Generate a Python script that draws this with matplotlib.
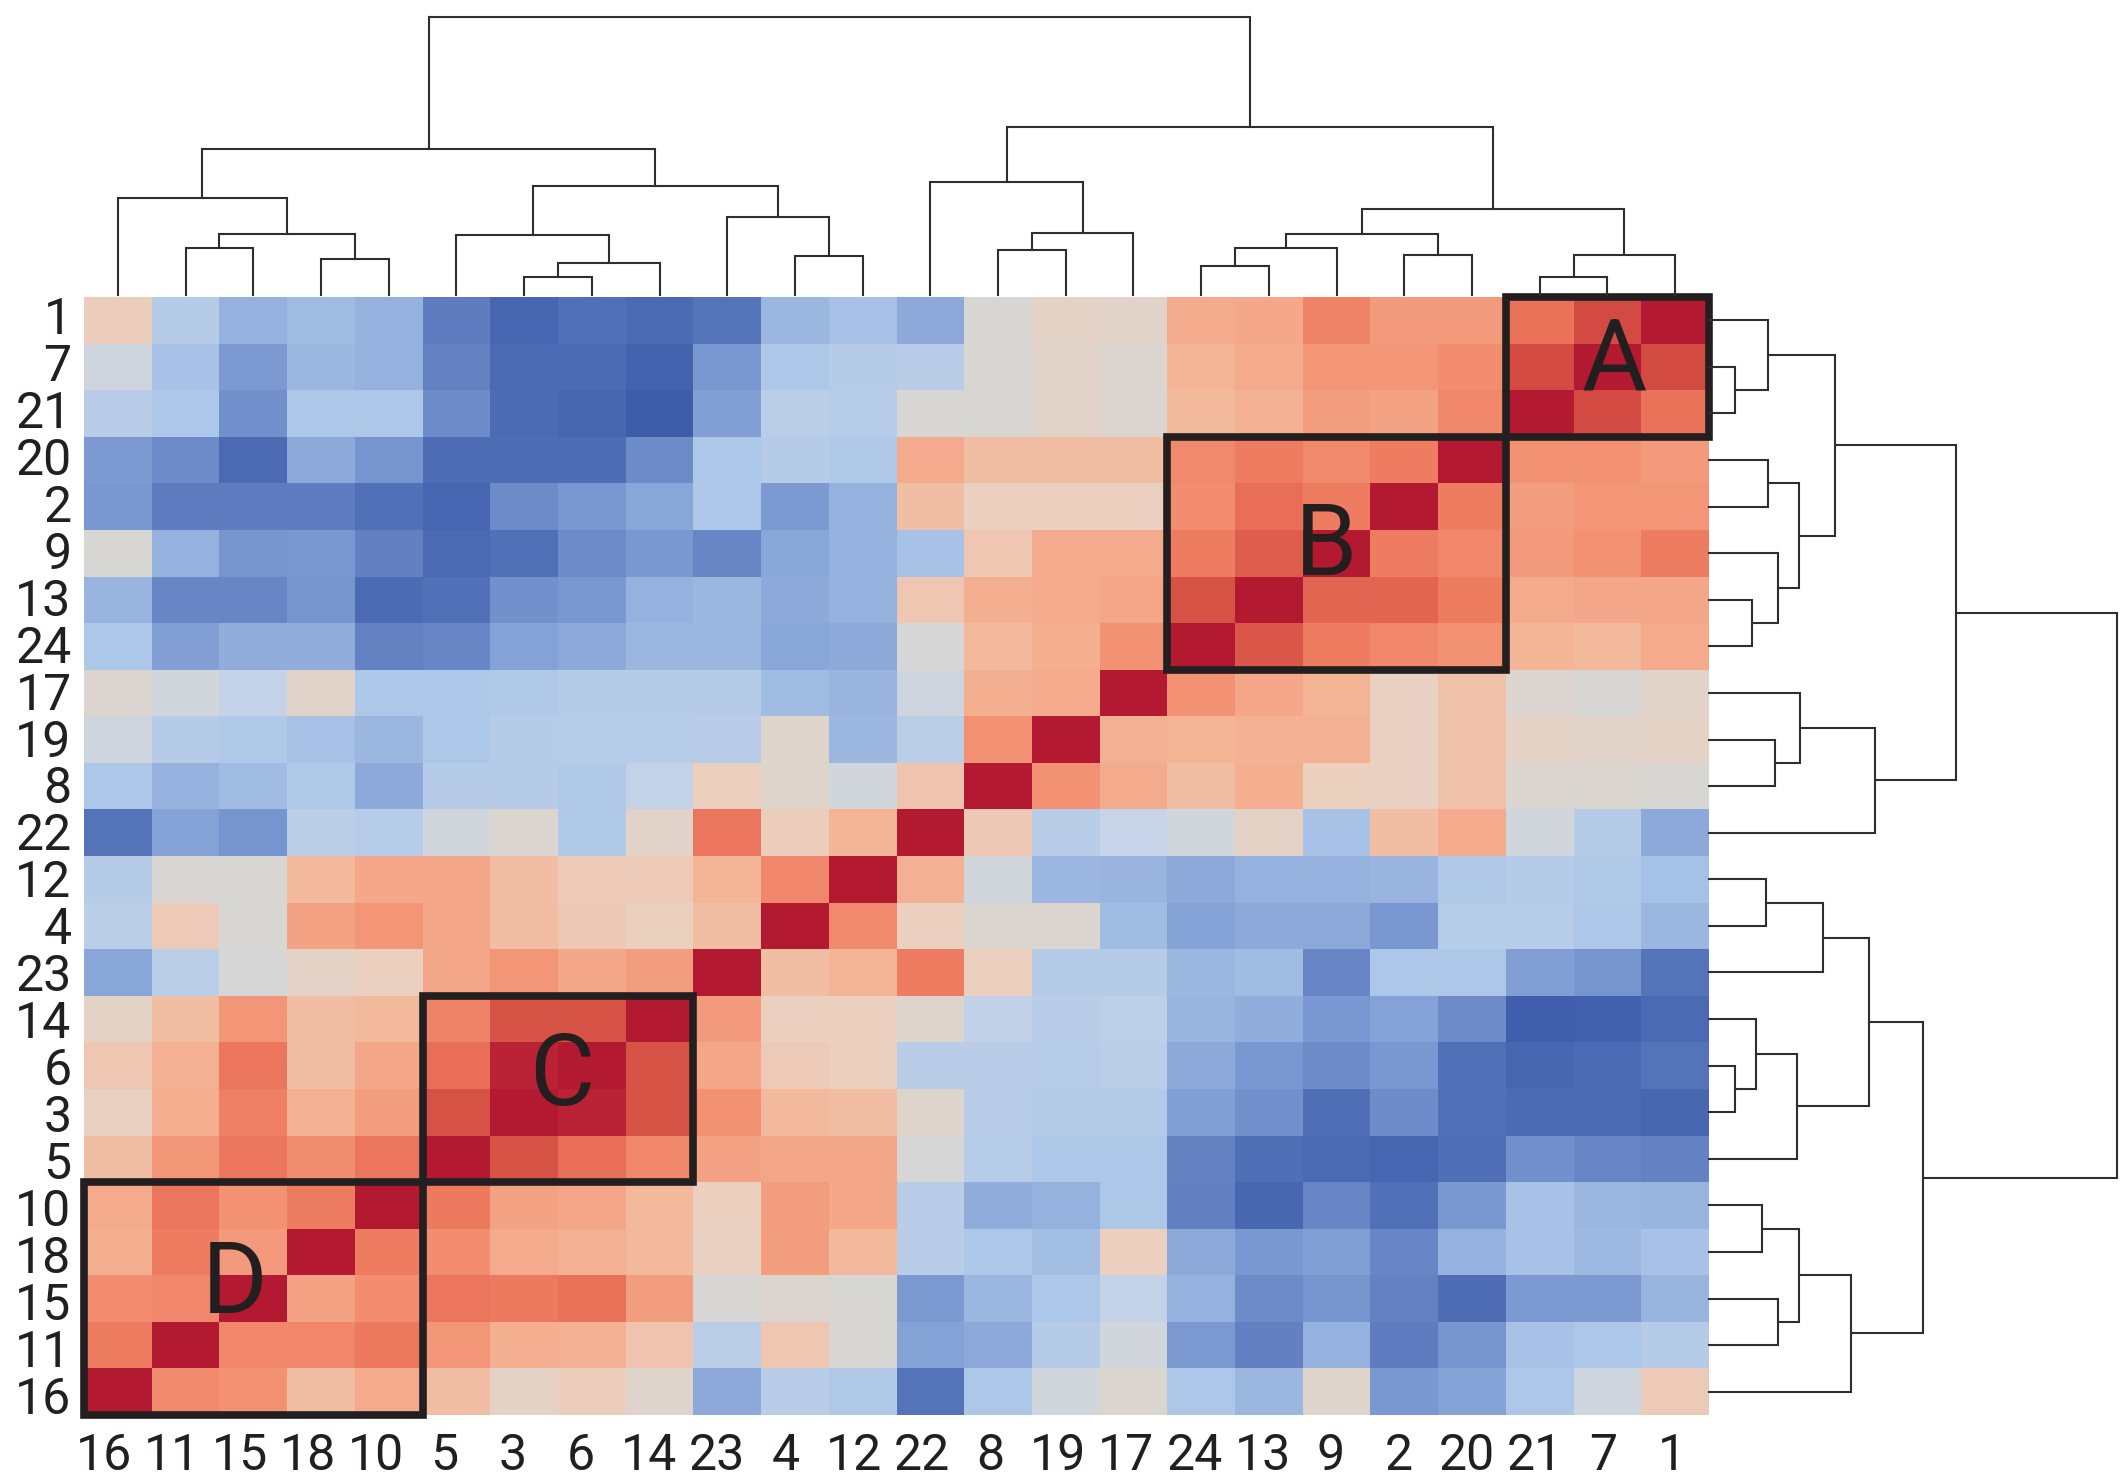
import matplotlib
matplotlib.use("Agg")
import matplotlib.pyplot as plt
from matplotlib.colors import LinearSegmentedColormap
from matplotlib.patches import Rectangle
import numpy as np

col_labels = [16, 11, 15, 18, 10, 5, 3, 6, 14, 23, 4, 12, 22, 8, 19, 17, 24, 13, 9, 2, 20, 21, 7, 1]
row_labels = [1, 7, 21, 20, 2, 9, 13, 24, 17, 19, 8, 22, 12, 4, 23, 14, 6, 3, 5, 10, 18, 15, 11, 16]

# rows top to bottom, columns left to right
corr = [
    [.12, -.15, -.3, -.25, -.3, -.55, -.72, -.62, -.68, -.6, -.27, -.22, -.33, 0, .07, .05, .3, .32, .52, .4, .4, .6, .75, 1],
    [-.03, -.22, -.4, -.27, -.3, -.52, -.68, -.67, -.75, -.42, -.2, -.15, -.13, 0, .05, .01, .25, .3, .42, .42, .47, .75, 1, .75],
    [-.13, -.2, -.45, -.2, -.2, -.47, -.67, -.7, -.8, -.38, -.12, -.14, 0, 0, .05, .02, .22, .27, .38, .35, .5, 1, .75, .6],
    [-.4, -.47, -.68, -.33, -.43, -.65, -.65, -.65, -.48, -.2, -.15, -.18, .3, .2, .2, .2, .48, .55, .48, .55, 1, .45, .45, .4],
    [-.42, -.55, -.55, -.55, -.62, -.72, -.48, -.42, -.35, -.2, -.4, -.3, .2, .1, .1, .1, .47, .62, .55, 1, .55, .38, .42, .42],
    [0, -.3, -.43, -.42, -.53, -.68, -.62, -.48, -.42, -.5, -.35, -.3, -.22, .15, .3, .3, .55, .68, 1, .55, .5, .4, .45, .55],
    [-.28, -.5, -.5, -.43, -.67, -.62, -.45, -.42, -.3, -.27, -.33, -.3, .15, .28, .3, .33, .72, 1, .65, .65, .55, .3, .33, .33],
    [-.2, -.38, -.32, -.32, -.52, -.5, -.37, -.33, -.27, -.27, -.35, -.33, -.01, .22, .28, .45, 1, .7, .55, .5, .45, .25, .22, .3],
    [.02, -.02, -.07, .05, -.2, -.2, -.17, -.15, -.15, -.15, -.25, -.28, -.03, .28, .3, 1, .45, .32, .25, .08, .18, .02, 0, .05],
    [-.03, -.15, -.17, -.22, -.27, -.2, -.15, -.14, -.14, -.13, .03, -.27, -.12, .45, 1, .27, .25, .26, .27, .08, .18, .06, .05, .07],
    [-.2, -.3, -.25, -.18, -.33, -.15, -.15, -.17, -.07, .1, .03, -.02, .17, 1, .45, .3, .2, .28, .1, .08, .18, .01, .01, 0],
    [-.6, -.37, -.43, -.12, -.14, -.02, .02, -.17, .05, .58, .12, .25, 1, .14, -.13, -.06, -.02, .07, -.22, .2, .3, -.02, -.15, -.33],
    [-.15, 0, 0, .22, .32, .32, .2, .13, .13, .25, .5, 1, .27, -.02, -.27, -.28, -.33, -.3, -.3, -.28, -.18, -.15, -.17, -.23],
    [-.12, .13, 0, .35, .42, .33, .2, .14, .1, .2, 1, .48, .1, .01, .02, -.25, -.37, -.33, -.33, -.42, -.14, -.14, -.2, -.27],
    [-.35, -.12, -.01, .06, .1, .33, .43, .32, .38, 1, .2, .25, .55, .1, -.15, -.15, -.27, -.25, -.5, -.2, -.2, -.38, -.43, -.6],
    [.06, .2, .42, .2, .22, .52, .72, .72, 1, .4, .1, .1, .03, -.08, -.13, -.1, -.28, -.32, -.42, -.37, -.48, -.78, -.76, -.68],
    [.15, .27, .58, .2, .32, .62, .95, 1, .72, .33, .13, .1, -.13, -.13, -.14, -.12, -.33, -.42, -.47, -.42, -.62, -.7, -.68, -.6],
    [.08, .28, .53, .27, .38, .72, 1, .95, .72, .45, .22, .2, .03, -.13, -.16, -.16, -.38, -.45, -.63, -.47, -.62, -.67, -.67, -.7],
    [.2, .43, .58, .47, .58, 1, .72, .62, .5, .35, .33, .33, -.01, -.14, -.2, -.2, -.52, -.63, -.68, -.72, -.63, -.45, -.5, -.52],
    [.3, .58, .45, .55, 1, .57, .35, .33, .22, .1, .38, .32, -.13, -.32, -.3, -.2, -.53, -.7, -.5, -.62, -.42, -.22, -.27, -.28],
    [.28, .55, .4, 1, .55, .47, .3, .27, .22, .08, .38, .22, -.13, -.2, -.24, .1, -.33, -.42, -.38, -.5, -.3, -.22, -.26, -.22],
    [.47, .5, 1, .35, .47, .58, .57, .6, .38, 0, .02, 0, -.4, -.27, -.2, -.07, -.3, -.48, -.43, -.52, -.65, -.4, -.4, -.28],
    [.55, 1, .5, .5, .57, .43, .28, .27, .17, -.12, .15, 0, -.37, -.33, -.15, -.02, -.4, -.53, -.3, -.55, -.43, -.22, -.2, -.15],
    [1, .48, .45, .2, .3, .2, .07, .12, .03, -.33, -.13, -.17, -.6, -.2, -.02, .01, -.2, -.27, .03, -.42, -.37, -.2, -.03, .13],
]

# dendrogram: leaves are columns 0-23, new nodes count up from 24
link_a = [6, 21, 16, 24, 3, 1, 26, 13, 19, 10, 25, 29, 30, 27, 31, 33, 35, 36, 37, 12, 40, 43, 44]
link_b = [7, 22, 17, 8, 4, 2, 18, 14, 20, 11, 23, 28, 32, 5, 15, 9, 0, 34, 39, 38, 42, 41, 45]
link_h = [18, 18, 29, 32, 36, 47, 47, 45, 40, 39, 40, 61, 61, 60, 62, 78, 97, 86, 109, 113, 146, 168, 278]

# boxes and the letters inside them
box_col = [21, 16, 5, 0]
box_row = [0, 3, 15, 19]
box_w = [3, 5, 4, 5]
box_h = [3, 5, 4, 5]
box_names = ["A", "B", "C", "D"]
name_x = [22.6, 18.34, 7.06, 2.22]
name_y = [1.43, 5.37, 16.76, 21.22]

colors = [(-.8, (62, 92, 170)), (-.6, (85, 115, 185)), (-.4, (125, 155, 210)), (-.2, (172, 199, 232)),
          (-.05, (200, 212, 232)), (0, (217, 214, 210)), (.1, (235, 208, 192)), (.25, (244, 180, 150)),
          (.45, (243, 145, 115)), (.6, (235, 115, 90)), (.75, (210, 75, 65)), (1, (180, 25, 50))]
vmin, vmax = -.8, 1
cmap = LinearSegmentedColormap.from_list(
    "muted", [((v - vmin) / (vmax - vmin), tuple(c / 255 for c in rgb)) for v, rgb in colors])

W, H = 2124, 1476
LEFT, RIGHT, TOP, BOTTOM = 84, 1709, 297, 1415
font = ["Roboto", "Open Sans", "DejaVu Sans"]
dark = "#231f20"


def px_axes(fig, x0, y0, x1, y1):
    # pixel box with y measured from the top of the picture
    return fig.add_axes([x0 / W, 1 - y1 / H, (x1 - x0) / W, (y1 - y0) / H])


def tree_lines():
    pos = {i: i + .5 for i in range(24)}
    hgt = {i: 0 for i in range(24)}
    lines = []
    for k, (a, b, h) in enumerate(zip(link_a, link_b, link_h)):
        lines.append(([pos[a], pos[a], pos[b], pos[b]], [hgt[a], h, h, hgt[b]]))
        pos[24 + k] = (pos[a] + pos[b]) / 2
        hgt[24 + k] = h
    return lines


fig = plt.figure(figsize=(W / 100, H / 100), dpi=100)

ax = px_axes(fig, LEFT, TOP, RIGHT, BOTTOM)
ax.pcolormesh(np.arange(25), np.arange(25), np.array(corr), cmap=cmap, vmin=vmin, vmax=vmax)
ax.set_xlim(0, 24)
ax.set_ylim(24, 0)
# the labels in the reference drift a little from the cell centres
ax.set_xticks(.288 + np.arange(24) * 1.007)
ax.set_xticklabels(col_labels, fontsize=36, family=font, color=dark)
ax.set_yticks(.39 + np.arange(24) * 1.0074)
ax.set_yticklabels(row_labels, fontsize=36, family=font, color=dark)
ax.tick_params(axis="x", length=0, pad=12)
ax.tick_params(axis="y", length=0, pad=9)
for s in ax.spines.values():
    s.set_visible(False)

for c, r, w, h, name, nx, ny in zip(box_col, box_row, box_w, box_h, box_names, name_x, name_y):
    ax.add_patch(Rectangle((c, r), w, h, fill=False, ec=dark, lw=5.5, clip_on=False, zorder=3, joinstyle="miter"))
    ax.text(nx, ny, name, fontsize=72, family=font, color=dark, ha="center", va="center", zorder=4)

top = px_axes(fig, LEFT, 17, RIGHT, TOP - 2)
side = px_axes(fig, RIGHT, TOP, 2117, BOTTOM)
for xs, ys in tree_lines():
    top.plot(xs, ys, color="#2e2e2e", lw=1.5, solid_joinstyle="miter")
    side.plot(ys, xs, color="#2e2e2e", lw=1.5, solid_joinstyle="miter")
top.set_xlim(0, 24)
top.set_ylim(0, 278)
side.set_xlim(0, 278)
side.set_ylim(0, 24)
for a in (top, side):
    a.axis("off")
    for ln in a.lines:
        ln.set_clip_on(False)

fig.savefig("out.png", dpi=100)
